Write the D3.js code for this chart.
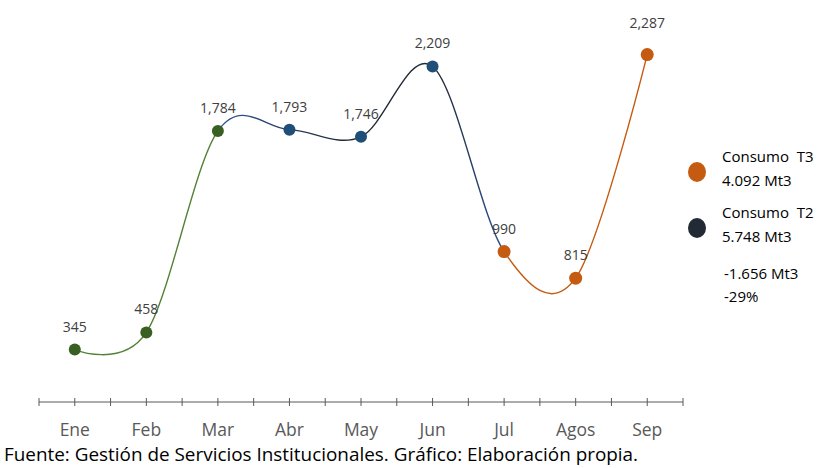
<!DOCTYPE html>
<html>
<head>
<meta charset="utf-8">
<script src="https://cdn.jsdelivr.net/npm/d3@7"></script>
<style>
  body { margin: 0; background: #fff; }
  svg { display: block; font-family: "Open Sans", Lato, sans-serif; }
</style>
</head>
<body>
<svg id="chart"></svg>
<script>
// Data
const months = ['Ene', 'Feb', 'Mar', 'Abr', 'May', 'Jun', 'Jul', 'Agos', 'Sep'];
const values = [345, 458, 1784, 1793, 1746, 2209, 990, 815, 2287];
const pointColors = ['#3a5f22', '#3a5f22', '#3a5f22', '#1f4e79', '#1f4e79', '#1f4e79', '#c55a11', '#c55a11', '#c55a11'];
// line segments grouped by colour: [start index, end index, colour]
const lineGroups = [
  [0, 2, '#548235'],
  [2, 6, 'url(#navyGrad)'],
  [6, 8, '#c55a11']
];
const legendItems = [
  { label: 'Consumo  T3', value: '4.092 Mt3', color: '#c55a11' },
  { label: 'Consumo  T2', value: '5.748 Mt3', color: '#222a35' }
];
const diffLines = ['-1.656 Mt3', '-29%'];
const source = 'Fuente: Gestión de Servicios Institucionales. Gráfico: Elaboración propia.';

const width = 819, height = 468;
const margin = { top: 22, left: 39, right: 136, bottom: 66 };

const svg = d3.select('#chart').attr('width', width).attr('height', height);

const xScale = d3.scaleBand()
  .domain(months)
  .range([margin.left, width - margin.right]);

const yScale = d3.scaleLinear()
  .domain([0, 2500])
  .range([height - margin.bottom, height - margin.bottom - 2500 * 0.1519]);

const xPos = i => xScale(months[i]) + xScale.bandwidth() / 2;

// gradient for middle section
const defs = svg.append('defs');
const grad = defs.append('linearGradient')
  .attr('id', 'navyGrad')
  .attr('gradientUnits', 'userSpaceOnUse')
  .attr('x1', xPos(2)).attr('x2', xPos(6))
  .attr('y1', 0).attr('y2', 0);
grad.append('stop').attr('offset', '0%').attr('stop-color', '#2f5597');
grad.append('stop').attr('offset', '45%').attr('stop-color', '#222a35');
grad.append('stop').attr('offset', '75%').attr('stop-color', '#222a35');
grad.append('stop').attr('offset', '100%').attr('stop-color', '#2f4f8f');

// x axis: ticks at band edges and centres
const axisY = yScale(0);
const tickVals = [];
months.forEach(m => {
  tickVals.push(xScale(m));
  tickVals.push(xScale(m) + xScale.bandwidth() / 2);
});
tickVals.push(xScale.range()[1]);

const axisG = svg.append('g');
axisG.append('line')
  .attr('x1', xScale.range()[0]).attr('x2', xScale.range()[1])
  .attr('y1', axisY).attr('y2', axisY)
  .attr('stroke', '#595959').attr('stroke-width', 1);
axisG.selectAll('.tick')
  .data(tickVals)
  .join('line')
  .attr('class', 'tick')
  .attr('x1', d => d).attr('x2', d => d)
  .attr('y1', axisY - 4).attr('y2', axisY + 4)
  .attr('stroke', '#595959').attr('stroke-width', 1);

axisG.selectAll('.month')
  .data(months)
  .join('text')
  .attr('class', 'month')
  .attr('x', (d, i) => xPos(i))
  .attr('y', axisY + 34)
  .attr('text-anchor', 'middle')
  .attr('fill', '#595959')
  .attr('font-size', 17.5)
  .text(d => d);

// smoothed line, coloured per section with clip paths
const pts = values.map((v, i) => [xPos(i), yScale(v)]);
const line = d3.line().curve(d3.curveCardinal.tension(0));

lineGroups.forEach(([a, b, color], k) => {
  defs.append('clipPath')
    .attr('id', 'clip' + k)
    .append('rect')
    .attr('x', pts[a][0]).attr('y', 0)
    .attr('width', pts[b][0] - pts[a][0]).attr('height', height);
  svg.append('path')
    .attr('d', line(pts))
    .attr('fill', 'none')
    .attr('stroke', color)
    .attr('stroke-width', 1.4)
    .attr('clip-path', `url(#clip${k})`);
});

// points
svg.selectAll('.point')
  .data(values)
  .join('circle')
  .attr('class', 'point')
  .attr('cx', (d, i) => xPos(i))
  .attr('cy', d => yScale(d))
  .attr('r', (d, i) => pointColors[i] === '#c55a11' ? 6.5 : 6)
  .attr('fill', (d, i) => pointColors[i]);

// value labels
const fmt = d3.format(',');
svg.selectAll('.val')
  .data(values)
  .join('text')
  .attr('class', 'val')
  .attr('x', (d, i) => xPos(i))
  .attr('y', (d, i) => yScale(d) - (i === 8 ? 27 : 18))
  .attr('text-anchor', 'middle')
  .attr('fill', '#404040')
  .attr('font-size', 14)
  .text(d => fmt(d));

// legend
const legend = svg.append('g').attr('transform', 'translate(697,172)');
legendItems.forEach((d, i) => {
  const g = legend.append('g').attr('transform', `translate(0,${i * 56})`);
  g.append('ellipse')
    .attr('rx', 9).attr('ry', 10)
    .attr('fill', d.color);
  g.append('text')
    .attr('x', 25).attr('y', -10)
    .attr('font-size', 15)
    .attr('fill', '#000')
    .text(d.label)
    .style('white-space', 'pre');
  g.append('text')
    .attr('x', 25).attr('y', 14)
    .attr('font-size', 15)
    .attr('fill', '#000')
    .text(d.value);
});
diffLines.forEach((t, i) => {
  svg.append('text')
    .attr('x', 724).attr('y', 279 + i * 23)
    .attr('font-size', 15)
    .attr('fill', '#000')
    .text(t);
});

// source
svg.append('text')
  .attr('x', 4).attr('y', 461)
  .attr('font-size', 18.9)
  .attr('fill', '#000')
  .text(source);
</script>
</body>
</html>
